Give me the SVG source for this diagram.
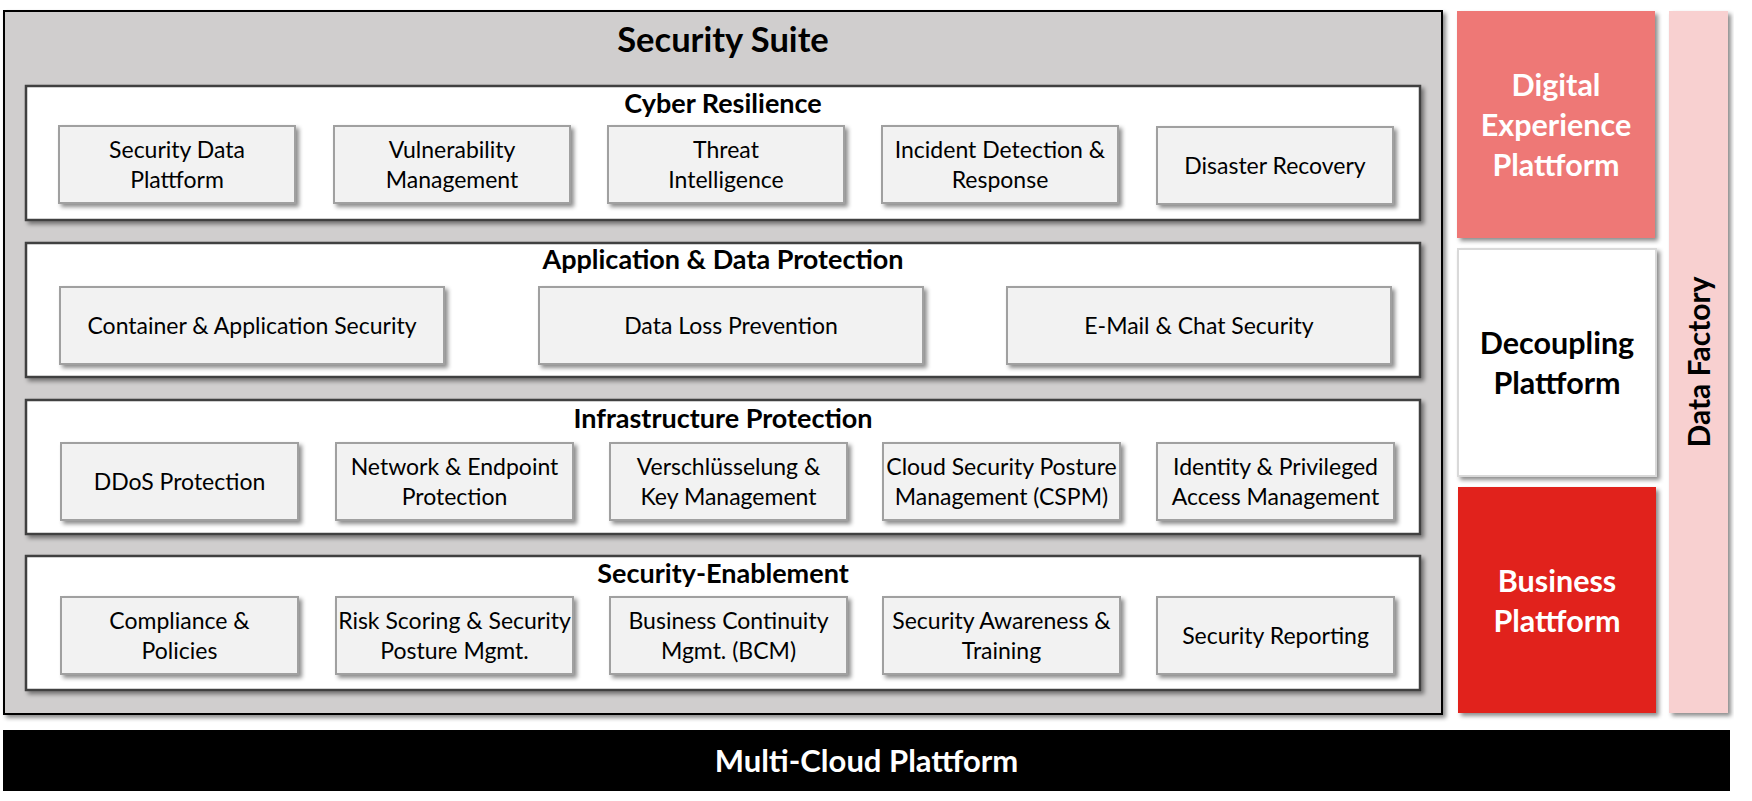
<svg xmlns="http://www.w3.org/2000/svg" width="1752" height="801" viewBox="0 0 1752 801">
<defs>
<filter id="sh" x="-10%" y="-10%" width="120%" height="130%">
<feDropShadow dx="3" dy="3" stdDeviation="2" flood-color="#000" flood-opacity="0.45"/>
</filter>
<style>
.suite{fill:#D0CECE;stroke:#000;stroke-width:2}
.panel{fill:#fff;stroke:#404040;stroke-width:2.5}
.box{fill:#F2F2F2;stroke:#A0A0A0;stroke-width:2}
.t{font-family:Lato,"Liberation Sans",sans-serif;text-anchor:middle;fill:#000}
.bt{font-size:23px}
.pt{font-size:27px;font-weight:bold}
.st{font-size:34.5px;font-weight:bold}
.rt{font-size:30.5px;font-weight:bold}
.df{font-size:30px;font-weight:bold}
.mc{font-size:31px;font-weight:bold}
.w{fill:#fff}
</style>
</defs>
<rect width="1752" height="801" fill="#fff"/>
<g id="security-suite">
<rect class="suite" x="4" y="11" width="1438" height="703" filter="url(#sh)"/>
<text class="t st" x="723" y="52">Security Suite</text>
</g>
<g id="cyber-resilience">
<rect class="panel" x="26" y="86" width="1394" height="134" filter="url(#sh)"/>
<text class="t pt" x="723" y="113">Cyber Resilience</text>
</g>
<g id="security-data-plattform"><rect class="box" x="59" y="126" width="236" height="77" filter="url(#sh)"/><text class="t bt" x="177" y="158">Security Data</text><text class="t bt" x="177" y="188">Plattform</text></g>
<g id="vulnerability-management"><rect class="box" x="334" y="126" width="236" height="77" filter="url(#sh)"/><text class="t bt" x="452" y="158">Vulnerability</text><text class="t bt" x="452" y="188">Management</text></g>
<g id="threat-intelligence"><rect class="box" x="608" y="126" width="236" height="77" filter="url(#sh)"/><text class="t bt" x="726" y="158">Threat</text><text class="t bt" x="726" y="188">Intelligence</text></g>
<g id="incident-detection"><rect class="box" x="882" y="126" width="236" height="77" filter="url(#sh)"/><text class="t bt" x="1000" y="158">Incident Detection &amp;</text><text class="t bt" x="1000" y="188">Response</text></g>
<g id="disaster-recovery"><rect class="box" x="1157" y="127" width="236" height="77" filter="url(#sh)"/><text class="t bt" x="1275" y="174">Disaster Recovery</text></g>

<g id="application-data-protection">
<rect class="panel" x="26" y="243" width="1394" height="134" filter="url(#sh)"/>
<text class="t pt" x="723" y="269">Application &amp; Data Protection</text>
</g>
<g id="container-application-security"><rect class="box" x="60" y="287" width="384" height="77" filter="url(#sh)"/><text class="t bt" x="252" y="334">Container &amp; Application Security</text></g>
<g id="data-loss-prevention"><rect class="box" x="539" y="287" width="384" height="77" filter="url(#sh)"/><text class="t bt" x="731" y="334">Data Loss Prevention</text></g>
<g id="email-chat-security"><rect class="box" x="1007" y="287" width="384" height="77" filter="url(#sh)"/><text class="t bt" x="1199" y="334">E-Mail &amp; Chat Security</text></g>

<g id="infrastructure-protection">
<rect class="panel" x="26" y="400" width="1394" height="134" filter="url(#sh)"/>
<text class="t pt" x="723" y="428">Infrastructure Protection</text>
</g>
<g id="ddos-protection"><rect class="box" x="61" y="443" width="237" height="77" filter="url(#sh)"/><text class="t bt" x="179.5" y="490">DDoS Protection</text></g>
<g id="network-endpoint-protection"><rect class="box" x="336" y="443" width="237" height="77" filter="url(#sh)"/><text class="t bt" x="454.5" y="475">Network &amp; Endpoint</text><text class="t bt" x="454.5" y="505">Protection</text></g>
<g id="verschluesselung"><rect class="box" x="610" y="443" width="237" height="77" filter="url(#sh)"/><text class="t bt" x="728.5" y="475">Verschlüsselung &amp;</text><text class="t bt" x="728.5" y="505">Key Management</text></g>
<g id="cspm"><rect class="box" x="883" y="443" width="237" height="77" filter="url(#sh)"/><text class="t bt" x="1001.5" y="475">Cloud Security Posture</text><text class="t bt" x="1001.5" y="505">Management (CSPM)</text></g>
<g id="identity-pam"><rect class="box" x="1157" y="443" width="237" height="77" filter="url(#sh)"/><text class="t bt" x="1275.5" y="475">Identity &amp; Privileged</text><text class="t bt" x="1275.5" y="505">Access Management</text></g>

<g id="security-enablement">
<rect class="panel" x="26" y="556" width="1394" height="134" filter="url(#sh)"/>
<text class="t pt" x="723" y="583">Security-Enablement</text>
</g>
<g id="compliance-policies"><rect class="box" x="61" y="597" width="237" height="77" filter="url(#sh)"/><text class="t bt" x="179.5" y="629">Compliance &amp;</text><text class="t bt" x="179.5" y="659">Policies</text></g>
<g id="risk-scoring"><rect class="box" x="336" y="597" width="237" height="77" filter="url(#sh)"/><text class="t bt" x="454.5" y="629">Risk Scoring &amp; Security</text><text class="t bt" x="454.5" y="659">Posture Mgmt.</text></g>
<g id="bcm"><rect class="box" x="610" y="597" width="237" height="77" filter="url(#sh)"/><text class="t bt" x="728.5" y="629">Business Continuity</text><text class="t bt" x="728.5" y="659">Mgmt. (BCM)</text></g>
<g id="security-awareness"><rect class="box" x="883" y="597" width="237" height="77" filter="url(#sh)"/><text class="t bt" x="1001.5" y="629">Security Awareness &amp;</text><text class="t bt" x="1001.5" y="659">Training</text></g>
<g id="security-reporting"><rect class="box" x="1157" y="597" width="237" height="77" filter="url(#sh)"/><text class="t bt" x="1275.5" y="644">Security Reporting</text></g>

<g id="digital-experience-platform">
<rect x="1457" y="11" width="198" height="227" fill="#EE7876" filter="url(#sh)"/>
<text class="t rt w" x="1556" y="96">Digital</text>
<text class="t rt w" x="1556" y="136">Experience</text>
<text class="t rt w" x="1556" y="176">Plattform</text>
</g>
<g id="decoupling-platform">
<rect x="1458" y="249" width="198" height="227" fill="#fff" stroke="#D9D9D9" stroke-width="2" filter="url(#sh)"/>
<text class="t rt" x="1557" y="354">Decoupling</text>
<text class="t rt" x="1557" y="394">Plattform</text>
</g>
<g id="business-platform">
<rect x="1458" y="487" width="198" height="226" fill="#E1201D" filter="url(#sh)"/>
<text class="t rt w" x="1557" y="592">Business</text>
<text class="t rt w" x="1557" y="632">Plattform</text>
</g>
<g id="data-factory">
<rect x="1669" y="11" width="59" height="702" fill="#F8D0D0" filter="url(#sh)"/>
<text class="t df" transform="translate(1710 362) rotate(-90)" x="0" y="0">Data Factory</text>
</g>
<g id="multi-cloud-platform">
<rect x="3" y="730" width="1727" height="61" fill="#000"/>
<text class="t mc w" x="866.5" y="772">Multi-Cloud Plattform</text>
</g>
<g id="connectors"/>
</svg>
